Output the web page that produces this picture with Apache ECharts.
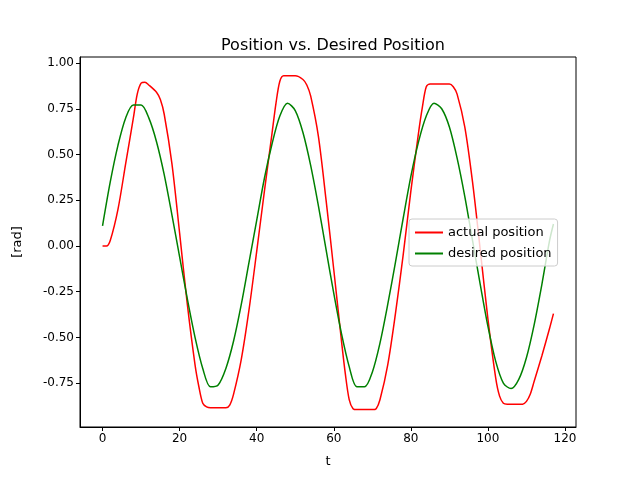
<!DOCTYPE html>
<html><head><meta charset="utf-8">
<script src="https://cdn.jsdelivr.net/npm/echarts@6/dist/echarts.min.js"></script>
<style>html,body{margin:0;padding:0;background:#fff}#c{width:640px;height:480px}</style>
</head><body><div id="c"></div>
<script>
const desiredT = [0,2,4,6,8,10,12,14,16,18,20,22,24,26,28,30,32,34,36,38,40,42,44,46,48,50,52,54,56,58,60,62,64,66,68,70,72,74,76,78,80,82,84,86,88,90,92,94,96,98,100,102,104,106,108,110,112,114,116,117];
const desiredY = [0.11,0.35,0.55,0.70,0.77,0.77,0.70,0.57,0.39,0.17,-0.06,-0.29,-0.50,-0.67,-0.77,-0.76,-0.67,-0.52,-0.32,-0.09,0.14,0.37,0.56,0.71,0.78,0.74,0.62,0.44,0.22,-0.02,-0.26,-0.48,-0.66,-0.77,-0.77,-0.69,-0.53,-0.32,-0.09,0.15,0.38,0.57,0.71,0.78,0.75,0.65,0.48,0.27,0.03,-0.21,-0.44,-0.63,-0.75,-0.78,-0.73,-0.61,-0.43,-0.21,0.03,0.12];
const actualT = [0,1,2,4,6,8,9,10,11,12,14,15,16,18,20,22,24,25,26,27,28,32,33,34,36,38,40,42,44,45,46,47,50,52,53,54,56,58,60,62,63,64,65,66,70,71,72,74,76,78,80,82,83,84,85,90,91,92,94,96,98,100,102,103,104,105,109,110,111,112,114,116,117];
const actualY = [0,0,0.03,0.2,0.45,0.7,0.83,0.89,0.895,0.88,0.84,0.80,0.72,0.45,0.07,-0.32,-0.65,-0.77,-0.86,-0.88,-0.885,-0.885,-0.87,-0.81,-0.62,-0.35,-0.03,0.3,0.62,0.78,0.9,0.93,0.93,0.91,0.88,0.82,0.6,0.25,-0.13,-0.52,-0.7,-0.84,-0.89,-0.895,-0.895,-0.89,-0.84,-0.65,-0.37,-0.05,0.3,0.62,0.76,0.87,0.885,0.885,0.87,0.83,0.65,0.35,-0.02,-0.4,-0.72,-0.82,-0.86,-0.865,-0.865,-0.85,-0.81,-0.74,-0.6,-0.45,-0.37];
const xTicks = [0,20,40,60,80,100,120];
const yTicks = [-0.75,-0.5,-0.25,0,0.25,0.5,0.75,1.0];
const font = 'DejaVu Sans';
const chart = echarts.init(document.getElementById('c'));
chart.setOption({
  animation:false,
  title:{text:'Position vs. Desired Position',left:328,top:33,textAlign:'center',textStyle:{fontFamily:font,fontSize:16,fontWeight:'normal',color:'#000'}},
  grid:{left:80,right:64,top:57,bottom:53,show:true,borderColor:'#000',borderWidth:1},
  legend:{orient:'vertical',left:409,top:219,itemWidth:28,itemHeight:2,itemGap:8,padding:[7,6,6,6],
    borderColor:'#ccc',borderWidth:1,borderRadius:3,backgroundColor:'rgba(255,255,255,0.8)',
    textStyle:{fontFamily:font,fontSize:13,color:'#000'},icon:'rect',
    data:['actual position','desired position']},
  xAxis:{type:'value',min:-5.85,max:122.85,name:'t',nameLocation:'middle',nameGap:28,
    nameTextStyle:{fontFamily:font,fontSize:13,color:'#000'},
    splitLine:{show:false},axisLine:{show:true,onZero:false,lineStyle:{color:'#000'}},
    axisTick:{show:true,customValues:xTicks,length:4,lineStyle:{color:'#000'}},
    axisLabel:{customValues:xTicks,fontFamily:font,fontSize:12,color:'#000',margin:6}},
  yAxis:{type:'value',min:-0.99,max:1.033,name:'[rad]',nameLocation:'middle',nameGap:56,
    nameTextStyle:{fontFamily:font,fontSize:13,color:'#000'},
    splitLine:{show:false},axisLine:{show:true,onZero:false,lineStyle:{color:'#000'}},
    axisTick:{show:true,customValues:yTicks,length:4,lineStyle:{color:'#000'}},
    axisLabel:{customValues:yTicks,fontFamily:font,fontSize:12,color:'#000',margin:6,formatter:v=>v.toFixed(2)}},
  series:[
    {name:'actual position',type:'line',showSymbol:false,smooth:0.3,lineStyle:{color:'#ff0000',width:1.5},itemStyle:{color:'#ff0000'},
      data:actualT.map((t,i)=>[t,actualY[i]])},
    {name:'desired position',type:'line',showSymbol:false,smooth:0.3,lineStyle:{color:'#008000',width:1.5},itemStyle:{color:'#008000'},
      data:desiredT.map((t,i)=>[t,desiredY[i]])}
  ]
});
</script></body></html>
